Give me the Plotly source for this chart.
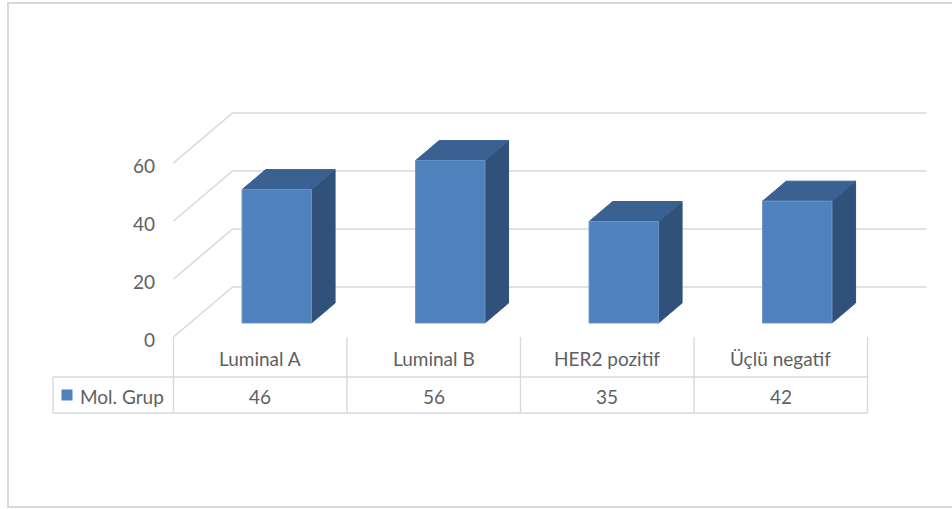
import plotly.graph_objects as go

# Data
categories = ["Luminal A", "Luminal B", "HER2 pozitif", "Üçlü negatif"]
values = [46, 56, 35, 42]
series_name = "Mol. Grup"
y_ticks = [0, 20, 40, 60]

# Styling
FRONT = "#4F81BD"
TOP = "#3B6192"
SIDE = "#30527A"
GRID = "#D9D9D9"
TEXT = "#5F5F5F"
FONT = "Lato, Carlito, 'Liberation Sans', sans-serif"

W, H = 952, 509
# Oblique projection: one category = 173.5 px, one value unit = 2.9 px
PX_PER_CAT = 173.5
PX_PER_VAL = 2.9
X0_PX, Y0_PX = 173.5, 337.0
DEPTH_X = 59 / PX_PER_CAT      # full-depth shift in category units
DEPTH_Y = 50 / PX_PER_VAL      # full-depth shift in value units
BAR_W = 0.4
BAR_D0, BAR_D1 = 0.28, 0.68    # bar position along the depth axis

def px_to_x(px):
    return (px - X0_PX) / PX_PER_CAT

def px_to_y(py):
    return (Y0_PX - py) / PX_PER_VAL

n = len(categories)
fig = go.Figure()

def line(xs, ys, color=GRID, width=1.6):
    fig.add_trace(go.Scatter(x=xs, y=ys, mode="lines", hoverinfo="skip",
                             line=dict(color=color, width=width), showlegend=False))

def poly(xs, ys, fill, edge):
    fig.add_trace(go.Scatter(x=xs + [xs[0]], y=ys + [ys[0]], mode="lines",
                             fill="toself", fillcolor=fill, hoverinfo="skip",
                             line=dict(color=edge, width=1), showlegend=False))

# Side wall diagonals and back wall gridlines
for v in y_ticks:
    line([0, DEPTH_X, n + DEPTH_X], [v, v + DEPTH_Y, v + DEPTH_Y])

# Bars (side, top, front faces)
for i, v in enumerate(values):
    x0 = i + 0.5 - BAR_W / 2 + BAR_D0 * DEPTH_X
    x1 = x0 + BAR_W
    yb = BAR_D0 * DEPTH_Y
    dx = (BAR_D1 - BAR_D0) * DEPTH_X
    dy = (BAR_D1 - BAR_D0) * DEPTH_Y
    poly([x1, x1 + dx, x1 + dx, x1], [yb, yb + dy, yb + dy + v, yb + v], SIDE, SIDE)
    poly([x0, x1, x1 + dx, x0 + dx], [yb + v, yb + v, yb + v + dy, yb + v + dy], TOP, TOP)
    poly([x0, x1, x1, x0], [yb, yb, yb + v, yb + v], FRONT, "#6A93C8")

# Value axis labels
annotations = []
for v in y_ticks:
    annotations.append(dict(x=px_to_x(157), y=v, xref="x", yref="y", text=str(v),
                            showarrow=False, xanchor="right", yanchor="middle", yshift=-2,
                            font=dict(family=FONT, size=19, color=TEXT)))

# Data table
row_top = 0
row_mid = px_to_y(377)
row_bot = px_to_y(413)
left_x = px_to_x(53)
for i in range(n + 1):
    line([i, i], [row_top, row_bot], width=1.4)
line([left_x, n], [row_mid, row_mid], width=1.4)
line([left_x, n], [row_bot, row_bot], width=1.4)
line([left_x, left_x], [row_mid, row_bot], width=1.4)

for i, (c, v) in enumerate(zip(categories, values)):
    annotations.append(dict(x=i + 0.5, y=(row_top + row_mid) / 2, xref="x", yref="y",
                            text=c, showarrow=False, yshift=-1,
                            font=dict(family=FONT, size=19, color=TEXT)))
    annotations.append(dict(x=i + 0.5, y=(row_mid + row_bot) / 2, xref="x", yref="y",
                            text=str(v), showarrow=False, yshift=-1,
                            font=dict(family=FONT, size=19, color=TEXT)))

# Series legend key in the table row
fig.add_trace(go.Scatter(x=[px_to_x(67)], y=[(row_mid + row_bot) / 2], mode="markers",
                         marker=dict(symbol="square", size=11, color=FRONT),
                         hoverinfo="skip", showlegend=False))
annotations.append(dict(x=px_to_x(78), y=(row_mid + row_bot) / 2, xref="x", yref="y",
                        text=series_name, showarrow=False, xanchor="left", yshift=-1,
                        font=dict(family=FONT, size=19, color=TEXT)))

# Chart frame: top, left and bottom edges (right edge runs past the page)
fx0 = 8 / W
fy_top = 1 - 3 / H
fy_bot = 1 - 507 / H
frame_path = f"M 1.05,{fy_top} L {fx0},{fy_top} L {fx0},{fy_bot} L 1.05,{fy_bot}"

fig.update_layout(
    width=W, height=H,
    margin=dict(l=0, r=0, t=0, b=0),
    paper_bgcolor="white", plot_bgcolor="white",
    xaxis=dict(range=[px_to_x(0), px_to_x(W)], visible=False, fixedrange=True),
    yaxis=dict(range=[px_to_y(H), px_to_y(0)], visible=False, fixedrange=True),
    annotations=annotations,
    shapes=[dict(type="path", xref="paper", yref="paper", path=frame_path,
                 line=dict(color=GRID, width=2), layer="below")],
)

fig.write_html("out.html")
